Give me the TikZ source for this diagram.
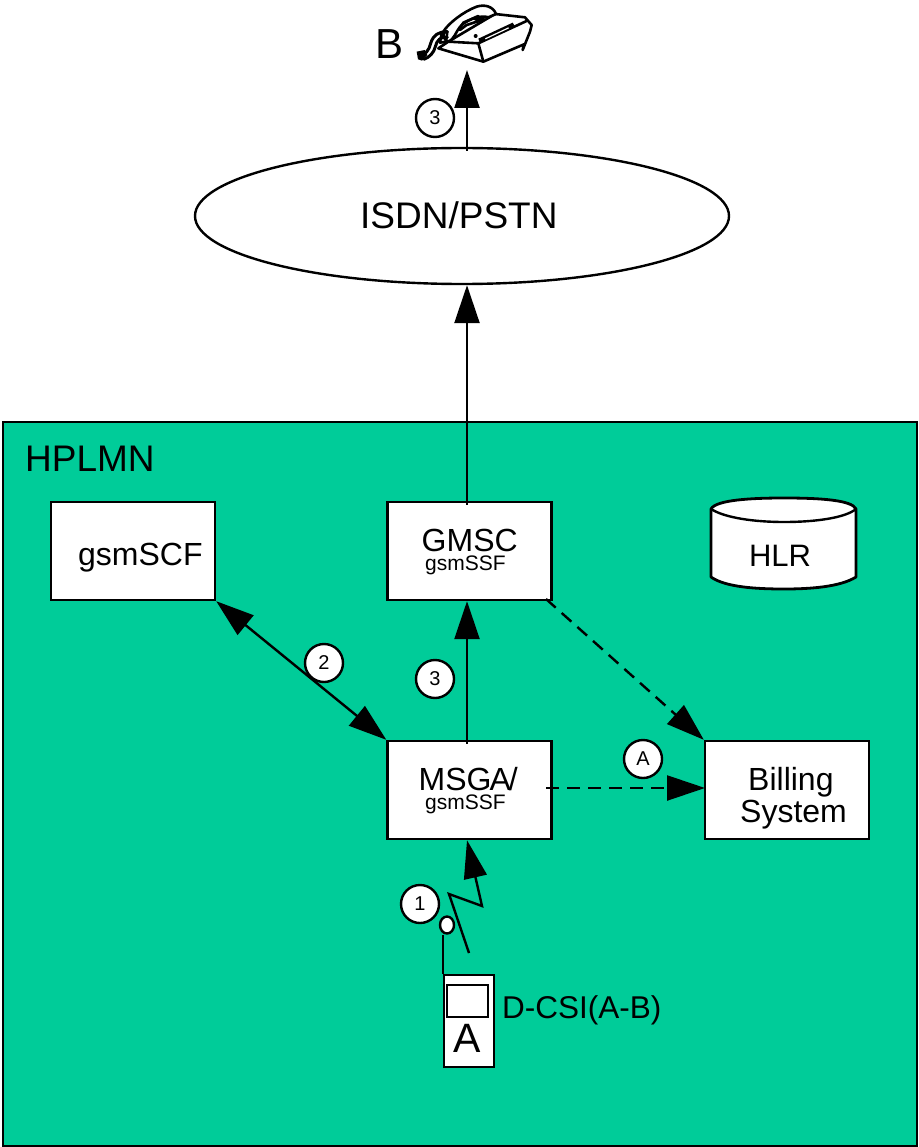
\documentclass[tikz,border=0pt]{standalone}
\usepackage{fontspec}
\setmainfont{Liberation Sans}
\usetikzlibrary{arrows.meta,shapes.geometric}
\definecolor{plmn}{RGB}{0,204,153}
\newcommand{\fs}[1]{\fontsize{#1pt}{#1pt}\selectfont}
\newcommand{\up}[1]{\raisebox{1.5pt}{#1}}
\tikzset{
  x=1pt,y=-1pt,
  line/.style={line width=2.4pt,draw=black},
  box/.style={line,fill=white,minimum width=164pt,minimum height=98pt,inner sep=0pt},
  num/.style={line,fill=white,circle,minimum size=38pt,inner sep=0pt,font=\fs{20}},
  lab/.style={inner sep=0pt,anchor=base west,font=\fs{32}},
  small/.style={inner sep=0pt,anchor=base west,font=\fs{21}},
  hd/.style={-{Triangle[length=38pt,width=25pt]}},
  dbl/.style={{Triangle[length=38pt,width=25pt]}-{Triangle[length=38pt,width=25pt]}},
  dsh/.style={dash pattern=on 13pt off 8pt},
}
\begin{document}
\begin{tikzpicture}
\useasboundingbox (0,0) rectangle (918,1147);
\fill[white] (0,0) rectangle (918,1147);
% HPLMN area
\node[line,fill=plmn,minimum width=914pt,minimum height=724pt,inner sep=0pt] (area) at (460,784) {};
\node[lab,font=\fs{37}] (hplmn) at (25,471) {HPLMN};
% boxes
\node[box] (scf) at (133,551) {};
\node[lab] (scft) at (78,565) {gsmSCF};
\node[box] (gmsc) at (469.5,551) {};
\node[lab] (gmsct) at (421.5,551) {GMSC};
\node[small] (gmscs) at (425,570) {gsmSSF};
\node[box] (msc) at (469.5,790) {};
\node[lab] (msct) at (418.5,790) {MSG\kern-2pt A\kern-2pt/};
\node[small] (mscs) at (425,809) {gsmSSF};
\node[box] (bill) at (787,790) {};
\node[lab] (billa) at (748,790) {Billing};
\node[lab] (billb) at (740,822) {System};
% cloud
\node[line,fill=white,ellipse,minimum width=534pt,minimum height=136pt,inner sep=0pt] (isdn) at (462,216) {};
\node[inner sep=0pt,anchor=base west,font=\fs{37}] (isdnt) at (360,229) {ISDN/PSTN};
% HLR
\draw[line,line width=2.8pt,fill=white,line join=round] (711,509) .. controls (716,500) and (750,498) .. (784,498) .. controls (820,498) and (852,500) .. (856,509)
  -- (856,577) .. controls (840,587) and (810,589) .. (784,589) .. controls (755,589) and (725,587) .. (711,577) -- cycle;
\draw[line] (711,509) .. controls (725,518) and (755,522) .. (784,522) .. controls (815,522) and (845,518) .. (856,509);
\node[inner sep=0pt,font=\fs{31}] (hlr) at (780,556) {HLR};
% coordinates
\coordinate (axis) at (467,0);
\coordinate (tipb) at (467,70);
\coordinate (gs) at (546,599);
\coordinate (ms) at (546,788);
\coordinate (bd) at (705,788);
\coordinate (z1) at (469,953);
\coordinate (z2) at (449,894);
\coordinate (z3) at (482,906);
% connectors
\draw[line,hd,shorten <=-4pt] (gmsc.north -| axis) -- (isdn.south -| axis);
\draw[line,hd,shorten <=-4pt] (isdn.north -| axis) -- (tipb);
\draw[line,hd,shorten <=-4pt] (msc.north -| axis) -- (gmsc.south -| axis);
\draw[line,dbl] (scf.south east) -- (msc.north west);
\draw[line,dsh,-{Triangle[length=38pt,width=25pt]}] (gs) -- (bill.north west);
\draw[line,dsh,-{Triangle[length=38pt,width=25pt]}] (ms) -- (bd);
\draw[line,line join=miter,-{Triangle[length=38pt,width=23pt]}] (z1) -- (z2) -- (z3) -- (msc.south -| axis);
% mobile
\node[line,fill=white,minimum width=50pt,minimum height=92pt,inner sep=0pt] (ms1) at (469,1021) {};
\node[line,fill=white,minimum width=41pt,minimum height=32pt,inner sep=0pt] (scr) at (467.5,1001) {};
\node[inner sep=0pt,anchor=base,font=\fs{41}] (aa) at (467.5,1052) {A};
\node[line,fill=white,ellipse,minimum width=14pt,minimum height=17pt,inner sep=0pt] (ant) at (447,925) {};
\draw[line] (ms1.north west) -- (ms1.north west |- ant.south);
\node[lab,font=\fs{31.5}] (dcsi) at (502,1018) {D-CSI(A-B)};
% numbered circles
\node[num] (n3a) at (435,118) {\up{3}};
\node[num] (n3b) at (435,679) {\up{3}};
\node[num] (n2) at (324,663) {\up{2}};
\node[num] (nA) at (643,759) {\up{A}};
\node[num] (n1) at (420,904) {\up{1}};
% B and telephone
\node[lab,font=\fs{42}] (bb) at (375,59) {B};
\begin{scope}[shift={(410,0)},x=0.3333pt,y=-0.3333pt,line join=round,line cap=round]
% body
\draw[line width=2.6pt,fill=white] (85,145) -- (115,125) -- (255,42) -- (345,52) -- (365,75) -- (360,95) -- (338,150) -- (342,133) -- (220,185) -- cycle;
\draw[line width=2.6pt] (115,125) -- (205,130) -- (220,185);
\draw[line width=2.6pt] (205,130) -- (352,62);
% handset
\draw[line width=2.6pt,fill=white] (100,95) .. controls (115,70) and (160,35) .. (200,20) .. controls (225,12) and (250,20) .. (258,42) -- (235,52) .. controls (215,45) and (180,55) .. (155,75) .. controls (135,95) and (135,120) .. (112,125) .. controls (100,115) and (98,105) .. (100,95) -- cycle;
\draw[line width=2.6pt] (150,85) -- (160,68) -- (205,48);
\draw[line width=2.6pt] (150,90) -- (170,75) -- (210,62);
% hook, keypad, button
\fill (195,48) -- (225,55) -- (212,70) -- (192,60) -- cycle;
\fill (205,116) -- (308,68) -- (314,78) -- (210,128) -- cycle;
\fill[white] (225,115) -- (295,82) -- (297,85) -- (227,118) -- cycle;
\fill (197,108) circle (6);
% cord and earpiece
\draw[line width=3pt] (112,95) .. controls (85,95) and (70,105) .. (62,130) .. controls (58,150) and (45,165) .. (30,168);
\draw[line width=3pt] (112,112) .. controls (92,108) and (80,122) .. (76,140) .. controls (72,158) and (58,172) .. (42,178);
\fill (20,155) -- (45,150) -- (52,165) -- (36,182) -- (24,178) -- cycle;
\draw[line width=2.6pt] (95,100) -- (112,95) -- (108,125) -- (90,128) -- cycle;
\end{scope}
\end{tikzpicture}
\end{document}
